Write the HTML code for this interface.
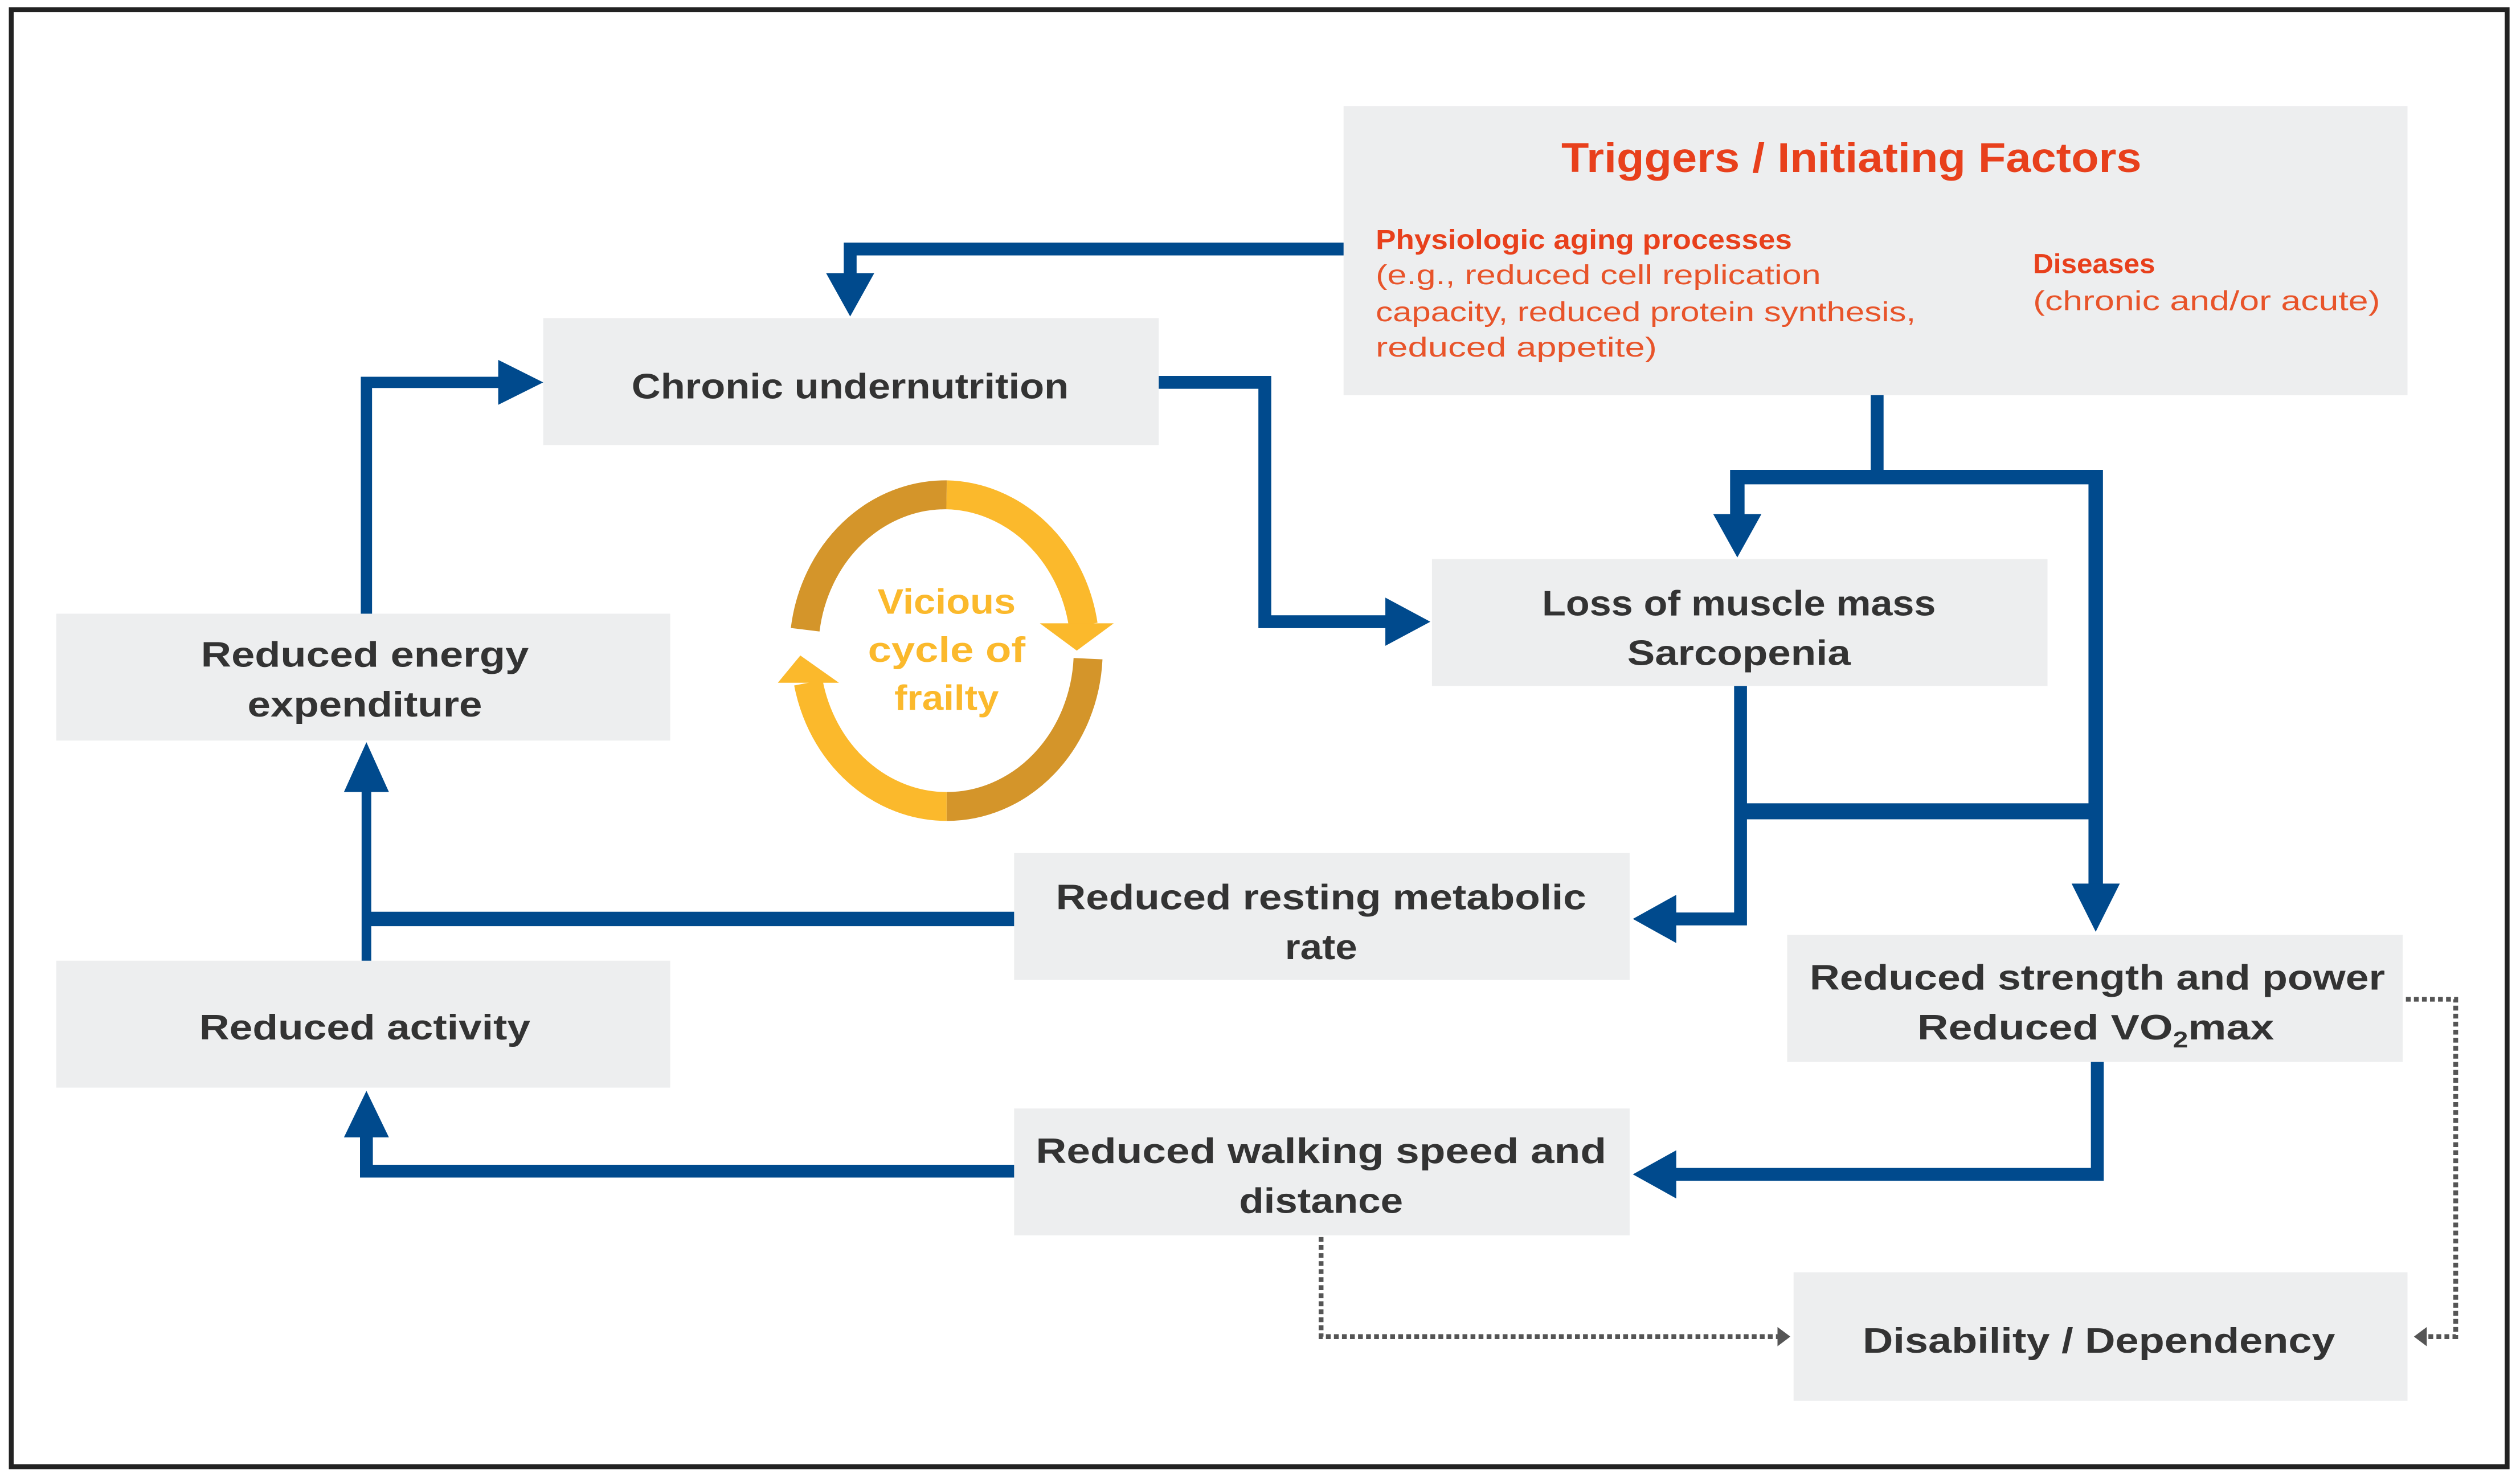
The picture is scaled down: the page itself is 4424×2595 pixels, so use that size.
<!DOCTYPE html>
<html><head><meta charset="utf-8"><style>
html,body{margin:0;padding:0;background:#fff;}
svg{display:block;}
text{font-family:"Liberation Sans",sans-serif;font-weight:bold;}
</style></head><body>
<svg width="4424" height="2595" viewBox="0 0 1568 920" preserveAspectRatio="none" xmlns="http://www.w3.org/2000/svg">
<rect x="0" y="0" width="1568" height="920" fill="#fff"/>
<rect x="7" y="6" width="1553" height="907" fill="none" stroke="#222" stroke-width="3"/>

<g fill="#edeeef">
<rect x="836" y="66" width="662" height="180"/>
<rect x="338" y="198" width="383" height="79"/>
<rect x="35" y="382" width="382" height="79"/>
<rect x="891" y="348" width="383" height="79"/>
<rect x="631" y="531" width="383" height="79"/>
<rect x="35" y="598" width="382" height="79"/>
<rect x="1112" y="582" width="383" height="79"/>
<rect x="631" y="690" width="383" height="79"/>
<rect x="1116" y="792" width="382" height="80"/>
</g>

<g fill="none" stroke="#004a8d" stroke-linejoin="miter">
<polyline points="836,155 529,155 529,172" stroke-width="8"/>
<polyline points="721,238 787,238 787,387 864,387" stroke-width="8"/>
<polyline points="1168,246 1168,297" stroke-width="8"/>
<polyline points="1081,322 1081,297 1304,297 1304,552" stroke-width="9"/>
<polyline points="1083,427 1083,572 1040,572" stroke-width="8"/>
<line x1="1083" y1="505" x2="1304" y2="505" stroke-width="10"/>
<polyline points="631,572 228,572" stroke-width="9"/>
<line x1="228" y1="598" x2="228" y2="490" stroke-width="6"/>
<polyline points="228,382 228,238 312,238" stroke-width="7"/>
<polyline points="1305,661 1305,731 1040,731" stroke-width="8"/>
<polyline points="631,729 228,729 228,706" stroke-width="8"/>
</g>
<g fill="#004a8d">
<polygon points="514,170 544,170 529,197"/>
<polygon points="862,372 862,402 890,387"/>
<polygon points="1066,320 1096,320 1081,347"/>
<polygon points="1289,550 1319,550 1304,580"/>
<polygon points="1043,557 1043,587 1016,572"/>
<polygon points="214,493 242,493 228,462"/>
<polygon points="310,224 310,252 338,238"/>
<polygon points="1043,716 1043,746 1016,731"/>
<polygon points="214,708 242,708 228,679"/>
</g>

<g fill="none" stroke="#555" stroke-width="3" stroke-dasharray="3,2">
<polyline points="822,770 822,832 1106,832"/>
<polyline points="1497,622 1528,622 1528,832 1510,832"/>
</g>
<g fill="#555">
<polygon points="1106,826 1106,838 1114,832"/>
<polygon points="1510,826 1510,838 1502,832"/>
</g>

<g fill="none" stroke-width="18">
<path d="M 501 392 A 88 97 0 0 1 589 308" stroke="#d4952a"/>
<path d="M 589 308 A 88 97 0 0 1 674 389" stroke="#fbb92c"/>
<path d="M 677 410 A 88 97 0 0 1 589 502" stroke="#d4952a"/>
<path d="M 589 502 A 88 97 0 0 1 503 425" stroke="#fbb92c"/>
</g>
<g fill="#fbb92c">
<polygon points="647,388 693,388 670,405"/>
<polygon points="484,425 522,425 498,408"/>
</g>
<g fill="#fbb92c" font-size="22" text-anchor="middle">
<text x="589" y="382" textLength="86" lengthAdjust="spacingAndGlyphs">Vicious</text>
<text x="589" y="412" textLength="98" lengthAdjust="spacingAndGlyphs">cycle of</text>
<text x="589" y="442" textLength="65" lengthAdjust="spacingAndGlyphs">frailty</text>
</g>

<text x="1152" y="107" fill="#e8401c" font-size="26" text-anchor="middle" textLength="361" lengthAdjust="spacingAndGlyphs">Triggers / Initiating Factors</text>
<text x="856" y="155" fill="#e8401c" font-size="17" textLength="259" lengthAdjust="spacingAndGlyphs">Physiologic aging processes</text>
<g fill="#e8542a" font-size="17">
<text x="856" y="177" style="font-weight:normal" textLength="277" lengthAdjust="spacingAndGlyphs">(e.g., reduced cell replication</text>
<text x="856" y="200" style="font-weight:normal" textLength="336" lengthAdjust="spacingAndGlyphs">capacity, reduced protein synthesis,</text>
<text x="856" y="222" style="font-weight:normal" textLength="175" lengthAdjust="spacingAndGlyphs">reduced appetite)</text>
<text x="1265" y="193" style="font-weight:normal" textLength="216" lengthAdjust="spacingAndGlyphs">(chronic and/or acute)</text>
</g>
<text x="1265" y="170" fill="#e8401c" font-size="17" textLength="76" lengthAdjust="spacingAndGlyphs">Diseases</text>

<g fill="#333" font-size="22" text-anchor="middle">
<text x="529" y="248" textLength="272" lengthAdjust="spacingAndGlyphs">Chronic undernutrition</text>
<text x="227" y="415" textLength="204" lengthAdjust="spacingAndGlyphs">Reduced energy</text>
<text x="227" y="446" textLength="146" lengthAdjust="spacingAndGlyphs">expenditure</text>
<text x="1082" y="383" textLength="245" lengthAdjust="spacingAndGlyphs">Loss of muscle mass</text>
<text x="1082" y="414" textLength="139" lengthAdjust="spacingAndGlyphs">Sarcopenia</text>
<text x="822" y="566" textLength="330" lengthAdjust="spacingAndGlyphs">Reduced resting metabolic</text>
<text x="822" y="597" textLength="45" lengthAdjust="spacingAndGlyphs">rate</text>
<text x="227" y="647" textLength="206" lengthAdjust="spacingAndGlyphs">Reduced activity</text>
<text x="1305" y="616" textLength="358" lengthAdjust="spacingAndGlyphs">Reduced strength and power</text>
<text x="1304" y="647" font-size="22" textLength="222" lengthAdjust="spacingAndGlyphs">Reduced VO<tspan font-size="14" dy="5">2</tspan><tspan dy="-5">max</tspan></text>
<text x="822" y="724" textLength="355" lengthAdjust="spacingAndGlyphs">Reduced walking speed and</text>
<text x="822" y="755" textLength="102" lengthAdjust="spacingAndGlyphs">distance</text>
<text x="1306" y="842" textLength="294" lengthAdjust="spacingAndGlyphs">Disability / Dependency</text>
</g>
</svg>
</body></html>
